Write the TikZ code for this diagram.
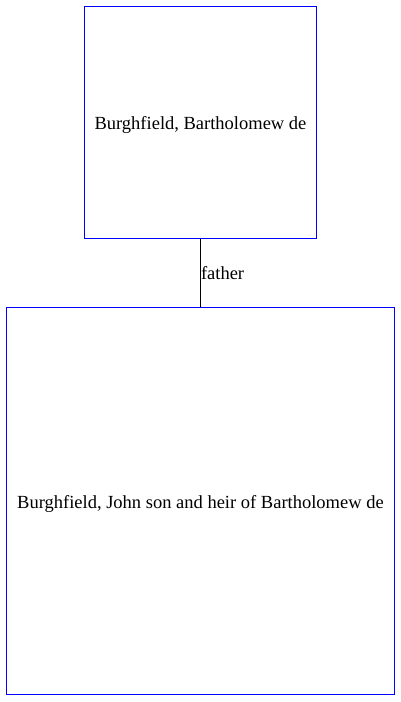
\documentclass[tikz,border=0pt]{standalone}
\usepackage{fontspec}
\setmainfont{Liberation Serif}
\begin{document}
\begin{tikzpicture}[x=1pt,y=1pt,
  person/.style={draw=blue,line width=1pt,inner sep=0pt,text height=19pt,text depth=4pt,font=\fontsize{18.5}{22}\selectfont},
  rel/.style={draw=black,line width=1pt},
  lbl/.style={font=\fontsize{18.5}{22}\selectfont,inner sep=0pt}]
\useasboundingbox (0,0) rectangle (401,702);
\node[person,minimum width=232pt,minimum height=232pt] (a) at (200.5,579.5) {Burghfield, Bartholomew de};
\node[person,minimum width=388pt,minimum height=387pt] (b) at (200.5,201) {Burghfield, John son and heir of Bartholomew de};
\draw[rel] (a.south) -- node[lbl,right] {father} (b.north);
\end{tikzpicture}
\end{document}
